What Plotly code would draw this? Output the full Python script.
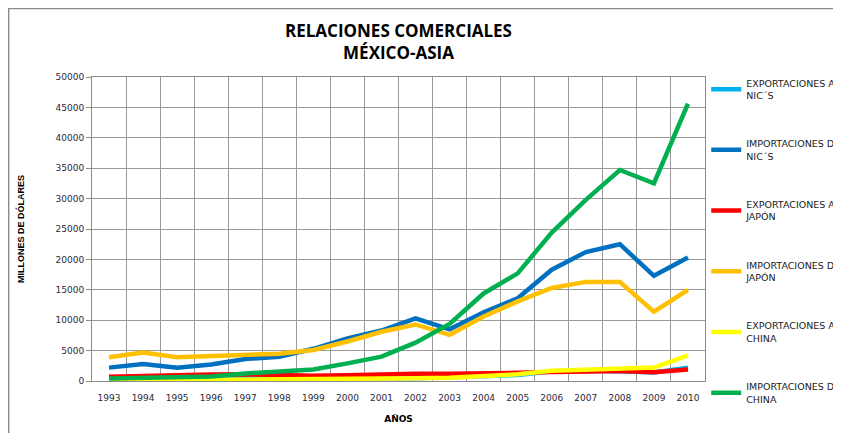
import plotly.graph_objects as go

years = [str(y) for y in range(1993, 2011)]

exp_nics = [300, 350, 400, 500, 600, 650, 600, 500, 400, 450, 600, 800, 1000, 1600, 1700, 1600, 1400, 2200]
imp_nics = [2200, 2800, 2200, 2700, 3600, 4000, 5300, 7000, 8300, 10300, 8500, 11300, 13600, 18300, 21200, 22500, 17300, 20300]
exp_japon = [700, 850, 950, 1050, 1100, 900, 850, 950, 1100, 1200, 1200, 1200, 1350, 1500, 1650, 1650, 1450, 1900]
imp_japon = [3900, 4700, 3900, 4100, 4300, 4500, 5100, 6500, 8100, 9300, 7600, 10600, 13100, 15300, 16300, 16300, 11400, 15000]
exp_china = [50, 80, 100, 150, 200, 250, 250, 300, 350, 450, 550, 750, 1100, 1700, 1900, 2000, 2200, 4200]
imp_china = [400, 500, 500, 750, 1250, 1600, 1900, 2900, 4000, 6300, 9400, 14400, 17700, 24400, 29800, 34700, 32500, 45600]

series = [
    ("EXPORTACIONES A<br>NIC´S", exp_nics, "#00B0F0"),
    ("IMPORTACIONES DE<br>NIC´S", imp_nics, "#0070C0"),
    ("EXPORTACIONES A<br>JAPÓN", exp_japon, "#FF0000"),
    ("IMPORTACIONES DE<br>JAPÓN", imp_japon, "#FFC000"),
    ("EXPORTACIONES A<br>CHINA", exp_china, "#FFFF00"),
    ("IMPORTACIONES DE<br>CHINA", imp_china, "#00B050"),
]

fig = go.Figure()
for i, (name, vals, col) in enumerate(series):
    fig.add_trace(go.Scatter(
        x=years, y=vals, name=name, mode="lines",
        line=dict(color=col, width=4.5),
        legendgroup=str(i),
    ))

font = "DejaVu Sans"
# page body has an 8px margin, so the figure is shifted by that
fig.update_layout(
    width=833, height=425,
    margin=dict(l=84, r=136, t=69, b=52, autoexpand=False),
    paper_bgcolor="white", plot_bgcolor="white",
    title=dict(
        text="<b>RELACIONES COMERCIALES<br>MÉXICO-ASIA</b>",
        x=0.5, xanchor="center", xref="paper", y=0.932, yanchor="top",
        font=dict(family="Open Sans", size=17, color="black"),
    ),
    legend=dict(
        x=1.002, xanchor="left", y=1.022, yanchor="top",
        font=dict(family=font, size=9.5, color="#1a1a1a"),
        tracegroupgap=33, itemwidth=30, maxheight=1.0,
        bgcolor="rgba(0,0,0,0)",
    ),
    xaxis=dict(
        type="category", tickson="boundaries", showgrid=True,
        range=[-0.5, 17.5],
        gridcolor="#9a9a9a", gridwidth=1,
        showline=True, linecolor="#8a8a8a", mirror=True,
        ticks="", ticklabelstandoff=8,
        tickfont=dict(family=font, size=9, color="#2a2a3a"),
        title=dict(text="<b>AÑOS</b>", font=dict(family=font, size=9, color="black"), standoff=13),
    ),
    yaxis=dict(
        range=[0, 50000], dtick=5000, tickformat="d", showgrid=True,
        gridcolor="#9a9a9a", gridwidth=1,
        showline=True, linecolor="#8a8a8a", mirror=True,
        ticks="outside", ticklen=5, tickcolor="#8a8a8a",
        tickfont=dict(family=font, size=9, color="#2a2a3a"),
        title=dict(text="<b>MILLONES DE DÓLARES</b>", font=dict(family="Liberation Sans Narrow, Liberation Sans", size=9, color="black"), standoff=29),
    ),
)
fig.add_shape(type="rect", xref="paper", yref="paper",
              x0=-0.136, y0=-0.3, x1=1.5, y1=1.225,
              line=dict(color="#8a8a8a", width=1.5))

fig.write_html("out.html")
